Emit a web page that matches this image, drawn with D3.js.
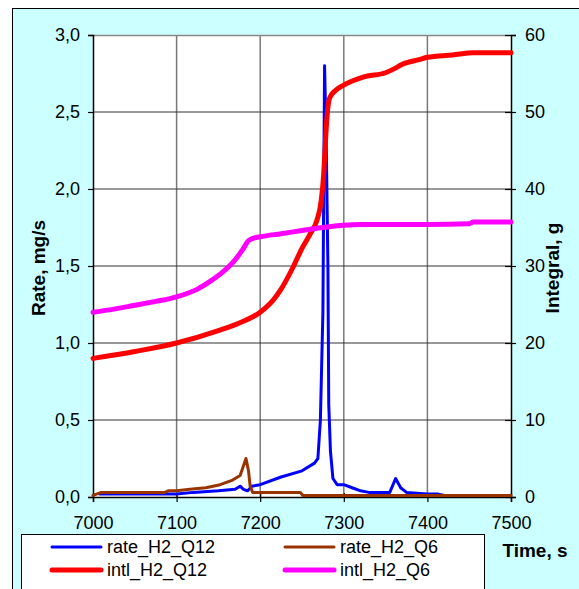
<!DOCTYPE html>
<html>
<head>
<meta charset="utf-8">
<script src="https://cdn.jsdelivr.net/npm/d3@7"></script>
<style>
  body { margin: 0; background: #fff; }
  svg text { font-family: Arial, "Liberation Sans", sans-serif; fill: #000; }
</style>
</head>
<body>
<div id="chart"></div>
<script>
// rate_H2_Q12 (mg/s)
const rateQ12Time = [7008, 7050, 7100, 7120, 7150, 7170, 7176, 7180, 7185, 7190, 7200, 7225, 7250, 7265, 7269,
  7272, 7275, 7277, 7279, 7281, 7282, 7284, 7287, 7292, 7300, 7310, 7320, 7330, 7355, 7362, 7368, 7375, 7400, 7412, 7420, 7453];
const rateQ12 = [0.02, 0.02, 0.02, 0.03, 0.04, 0.05, 0.07, 0.05, 0.04, 0.07, 0.08, 0.13, 0.17, 0.22, 0.25,
  0.5, 1.2, 2.8, 2.3, 1.5, 0.6, 0.3, 0.12, 0.08, 0.08, 0.06, 0.04, 0.03, 0.03, 0.12, 0.06, 0.03, 0.02, 0.02, 0.01, 0.01];

// rate_H2_Q6 (mg/s)
const rateQ6Time = [7000, 7010, 7086, 7090, 7100, 7116, 7135, 7152, 7167, 7176, 7183, 7186, 7188, 7191, 7248, 7251, 7500];
const rateQ6 = [0.01, 0.03, 0.03, 0.04, 0.04, 0.05, 0.06, 0.08, 0.11, 0.14, 0.25, 0.17, 0.07, 0.03, 0.03, 0.01, 0.01];

// intl_H2_Q12 (g)
const intlQ12Time = [7000, 7050, 7100, 7150, 7175, 7200, 7215, 7225, 7240, 7250, 7260, 7268, 7273, 7276, 7278,
  7280, 7283, 7290, 7300, 7325, 7350, 7360, 7370, 7390, 7400, 7430, 7455, 7500];
const intlQ12 = [18.0, 18.9, 20.0, 21.6, 22.6, 24.0, 25.5, 27.0, 30.0, 32.3, 34.2, 36.0, 38.5, 42.0, 46.0,
  49.5, 51.8, 52.8, 53.5, 54.6, 55.1, 55.6, 56.2, 56.8, 57.1, 57.4, 57.7, 57.7];

// intl_H2_Q6 (g)
const intlQ6Time = [7000, 7025, 7050, 7075, 7100, 7125, 7140, 7155, 7170, 7180, 7186, 7195, 7200, 7225, 7250,
  7275, 7300, 7320, 7350, 7400, 7450, 7455, 7500];
const intlQ6 = [24.0, 24.4, 24.9, 25.4, 26.0, 27.0, 28.0, 29.2, 30.8, 32.3, 33.3, 33.7, 33.8, 34.2, 34.6,
  35.0, 35.3, 35.4, 35.4, 35.4, 35.5, 35.7, 35.7];

const xTicks = [7000, 7100, 7200, 7300, 7400, 7500];
const yTicks = [0, 0.5, 1.0, 1.5, 2.0, 2.5, 3.0];
const y2Ticks = [0, 10, 20, 30, 40, 50, 60];

const series = [
  {name: "rate_H2_Q12", t: rateQ12Time, v: rateQ12, axis: "left", color: "#0000ff", width: 3, smooth: false},
  {name: "rate_H2_Q6", t: rateQ6Time, v: rateQ6, axis: "left", color: "#993300", width: 3, smooth: false},
  {name: "intl_H2_Q12", t: intlQ12Time, v: intlQ12, axis: "right", color: "#ff0000", width: 5, smooth: true},
  {name: "intl_H2_Q6", t: intlQ6Time, v: intlQ6, axis: "right", color: "#ff00ff", width: 5, smooth: true}
];

const W = 579, H = 589;
const plot = {left: 93, right: 511, top: 35, bottom: 497};

const svg = d3.select("#chart").append("svg")
  .attr("width", W)
  .attr("height", H);

// chart area background
svg.append("rect")
  .attr("x", 12.5).attr("y", 8.5)
  .attr("width", W).attr("height", H)
  .attr("fill", "#ccffff")
  .attr("stroke", "#000")
  .attr("stroke-width", 1);

svg.append("rect")
  .attr("x", plot.left).attr("y", plot.top)
  .attr("width", plot.right - plot.left).attr("height", plot.bottom - plot.top)
  .attr("fill", "#fff");

const x = d3.scaleLinear().domain([7000, 7500]).range([plot.left, plot.right]);
const y = d3.scaleLinear().domain([0, 3]).range([plot.bottom, plot.top]);
const y2 = d3.scaleLinear().domain([0, 60]).range([plot.bottom, plot.top]);

// gridlines
svg.append("g").selectAll("line")
  .data(xTicks.slice(1, -1))
  .join("line")
  .attr("x1", d => x(d)).attr("x2", d => x(d))
  .attr("y1", plot.top).attr("y2", plot.bottom)
  .attr("stroke", "#7a7a7a").attr("stroke-width", 1.5);

svg.append("g").selectAll("line")
  .data(yTicks.slice(1, -1))
  .join("line")
  .attr("x1", plot.left).attr("x2", plot.right)
  .attr("y1", d => y(d)).attr("y2", d => y(d))
  .attr("stroke", "#333").attr("stroke-width", 1);

svg.append("line")
  .attr("x1", plot.left).attr("x2", plot.right)
  .attr("y1", plot.top + 0.5).attr("y2", plot.top + 0.5)
  .attr("stroke", "#888").attr("stroke-width", 1.5);

// axes
const fmt = d => d3.format(".1f")(d).replace(".", ",");

const leftAxis = svg.append("g")
  .attr("transform", `translate(${plot.left},0)`)
  .call(d3.axisLeft(y).tickValues(yTicks).tickFormat(fmt).tickSize(5).tickPadding(8));

const rightAxis = svg.append("g")
  .attr("transform", `translate(${plot.right},0)`)
  .call(d3.axisRight(y2).tickValues(y2Ticks).tickFormat(d3.format("d")).tickSize(5).tickPadding(9));

const bottomAxis = svg.append("g")
  .attr("transform", `translate(0,${plot.bottom})`)
  .call(d3.axisBottom(x).tickValues(xTicks).tickFormat(d3.format("d")).tickSize(5).tickPadding(14));

[leftAxis, rightAxis, bottomAxis].forEach(a => {
  a.select(".domain").attr("stroke", "#000").attr("stroke-width", 1.5);
  a.selectAll(".tick line").attr("stroke", "#000").attr("stroke-width", 1.2);
  a.selectAll("text").style("font-size", "18px").attr("fill", "#000");
});

// right ticks cross the axis
rightAxis.selectAll(".tick line").attr("x1", -6).attr("x2", 5);
bottomAxis.selectAll(".tick line").attr("y1", -4).attr("y2", 5);

// series lines
series.forEach(s => {
  const yy = s.axis === "left" ? y : y2;
  const line = d3.line()
    .x((d, i) => x(s.t[i]))
    .y(d => yy(d))
    .curve(s.smooth ? d3.curveMonotoneX : d3.curveLinear);
  svg.append("path")
    .datum(s.v)
    .attr("d", line)
    .attr("fill", "none")
    .attr("stroke", s.color)
    .attr("stroke-width", s.width)
    .attr("stroke-linejoin", "round")
    .attr("stroke-linecap", "round");
});

// axis titles
svg.append("text")
  .attr("transform", "translate(38,268) rotate(-90)")
  .attr("text-anchor", "middle")
  .attr("dominant-baseline", "central")
  .style("font-size", "19px").style("font-weight", "bold")
  .text("Rate, mg/s");

svg.append("text")
  .attr("transform", "translate(552,268) rotate(-90)")
  .attr("text-anchor", "middle")
  .attr("dominant-baseline", "central")
  .style("font-size", "19px").style("font-weight", "bold")
  .text("Integral, g");

svg.append("text")
  .attr("x", 535).attr("y", 557)
  .attr("text-anchor", "middle")
  .style("font-size", "19px").style("font-weight", "bold")
  .text("Time, s");

// legend
const legend = svg.append("g");
legend.append("rect")
  .attr("x", 21.5).attr("y", 534.5)
  .attr("width", 463).attr("height", 60)
  .attr("fill", "#fff").attr("stroke", "#000");

const legendPos = [[52, 547], [285, 547], [52, 570], [285, 570]];
series.forEach((s, i) => {
  const [lx, ly] = legendPos[i];
  legend.append("line")
    .attr("x1", lx).attr("x2", lx + 49)
    .attr("y1", ly).attr("y2", ly)
    .attr("stroke", s.color)
    .attr("stroke-width", s.width)
    .attr("stroke-linecap", "round");
  legend.append("text")
    .attr("x", lx + 55).attr("y", ly + 6)
    .style("font-size", "18px")
    .text(s.name);
});
</script>
</body>
</html>
